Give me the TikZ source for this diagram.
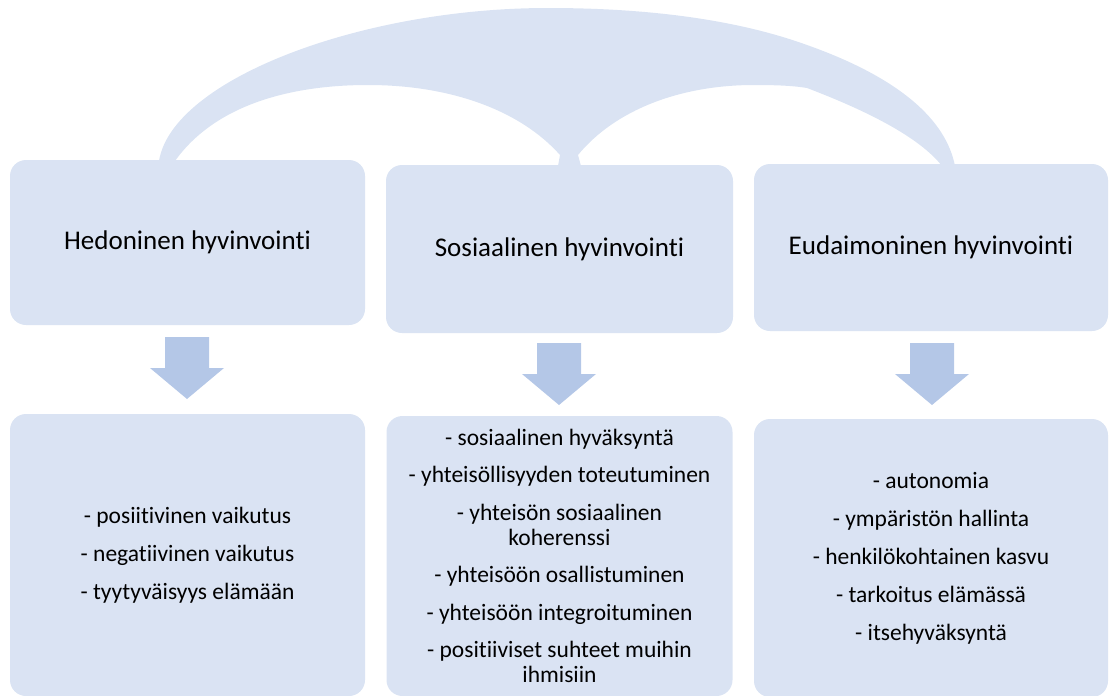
\documentclass[tikz,border=0pt]{standalone}
\usepackage{fontspec}
\setmainfont{Carlito}[Ligatures={NoCommon}]
\definecolor{boxfill}{HTML}{DAE3F3}
\definecolor{arrowfill}{HTML}{B4C7E7}
\tikzset{
  panel/.style={fill=boxfill, draw=none, rounded corners=16pt, align=center, inner sep=0pt, text=black},
  headbox/.style={panel, font=\fontsize{27}{30}\selectfont},
  listbox/.style={panel, font=\fontsize{23.5}{25}\selectfont},
  downarrow/.pic={
    \fill[arrowfill] (-22,0) -- (22,0) -- (22,31) -- (37,31) -- (0,62) -- (-37,31) -- (-22,31) -- cycle;
  }
}
\begin{document}
\begin{tikzpicture}[x=1pt, y=-1pt]
  \useasboundingbox (0,0) rectangle (1109,696);

  % linking arc over the three headings
  \fill[boxfill]
    (159,161) .. controls (172,80) and (360,8) .. (548,8)
    .. controls (680,8) and (760,28) .. (807,45)
    .. controls (900,78) and (946,120) .. (955,166)
    -- (942,166)
    .. controls (920,138) and (870,112) .. (807,88)
    .. controls (795,86) and (780,85) .. (754,85)
    .. controls (680,85) and (615,110) .. (578,155)
    -- (581,166) -- (558,166) -- (560,155)
    .. controls (520,110) and (450,85) .. (368,85)
    .. controls (290,85) and (215,105) .. (175,161)
    -- cycle;

  % headings
  \node[headbox, minimum width=355pt, minimum height=165pt] (hed) at (187.5,242.5) {Hedoninen hyvinvointi};
  \node[headbox, minimum width=347pt, minimum height=168pt] (sos) at (559.5,249) {Sosiaalinen hyvinvointi};
  \node[headbox, minimum width=354pt, minimum height=167pt] (eud) at (931,247.5) {Eudaimoninen hyvinvointi};

  % block arrows
  \pic at (187,337) {downarrow};
  \pic at (559,343) {downarrow};
  \pic at (932,343) {downarrow};

  % component lists
  \node[listbox, minimum width=355pt, minimum height=282pt] (hedl) at (187.5,555) {%
    - posiitivinen vaikutus\\[13pt]
    - negatiivinen vaikutus\\[13pt]
    - tyytyväisyys elämään};
  \node[listbox, minimum width=346pt, minimum height=280pt] (sosl) at (559.5,556) {%
    - sosiaalinen hyväksyntä\\[12.5pt]
    - yhteisöllisyyden toteutuminen\\[12.5pt]
    - yhteisön sosiaalinen\\
    koherenssi\\[12.5pt]
    - yhteisöön osallistuminen\\[12.5pt]
    - yhteisöön integroituminen\\[12.5pt]
    - positiiviset suhteet muihin\\
    ihmisiin};
  \node[listbox, minimum width=354pt, minimum height=278pt] (eudl) at (931,558) {%
    - autonomia\\[13pt]
    - ympäristön hallinta\\[13pt]
    - henkilökohtainen kasvu\\[13pt]
    - tarkoitus elämässä\\[13pt]
    - itsehyväksyntä};
\end{tikzpicture}
\end{document}
